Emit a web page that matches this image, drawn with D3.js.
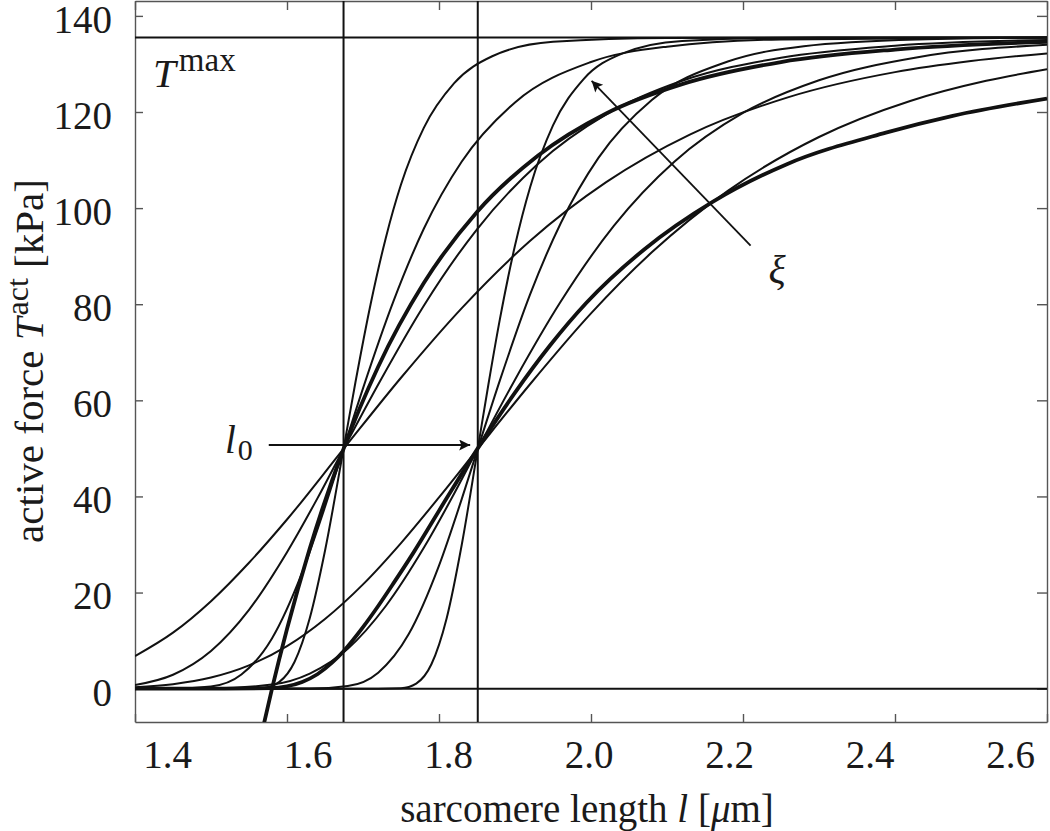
<!DOCTYPE html>
<html>
<head>
<meta charset="utf-8">
<script src="https://cdn.jsdelivr.net/npm/d3@7"></script>
<style>
  body { margin: 0; background: #fff; }
  svg text { font-family: "Liberation Serif", "DejaVu Serif", serif; fill: #1a1a1a; }
</style>
</head>
<body>
<svg id="chart"></svg>
<script>
// values: sarcomere length l [um] vs active force T [kPa]
const tMax = 135.5;
const l0Lines = [1.6744, 1.851];
const xTicks = [1.4, 1.6, 1.8, 2.0, 2.2, 2.4, 2.6];
const yTicks = [0, 20, 40, 60, 80, 100, 120, 140];

// left family (through l0 = 1.674), steep to flat
const a1 = [[1.40, 0], [1.54, 0], [1.57, 0.19], [1.59, 1.41], [1.61, 5.6], [1.63, 14.7], [1.65, 28.7], [1.6744, 49.9], [1.69, 63.7], [1.71, 80.0], [1.73, 93.8], [1.75, 104.9], [1.78, 116.7], [1.82, 126.0], [1.87, 131.6], [1.95, 134.6], [2.10, 135.4], [2.60, 135.5]];
const a2 = [[1.40, 0], [1.45, 0.01], [1.50, 0.44], [1.54, 2.93], [1.58, 10.4], [1.62, 24.2], [1.65, 37.8], [1.6744, 49.9], [1.70, 62.5], [1.74, 80.6], [1.78, 95.7], [1.83, 109.7], [1.90, 122.0], [2.00, 130.4], [2.10, 133.6], [2.25, 135.1], [2.60, 135.5]];
const a3 = [[1.40, 0.76], [1.45, 2.90], [1.50, 7.85], [1.55, 16.4], [1.60, 28.4], [1.64, 39.6], [1.6744, 49.9], [1.72, 63.3], [1.78, 79.7], [1.85, 95.6], [1.93, 109.2], [2.02, 119.5], [2.12, 126.5], [2.25, 131.3], [2.40, 133.8], [2.60, 135.0]];
const a4 = [[1.40, 6.77], [1.45, 11.65], [1.50, 18.2], [1.55, 26.2], [1.60, 35.2], [1.6744, 49.9], [1.75, 64.7], [1.83, 79.2], [1.92, 93.2], [2.02, 105.4], [2.13, 115.3], [2.26, 123.1], [2.40, 128.3], [2.50, 130.6], [2.60, 132.2]];
const aThick = [[1.565, -10.5], [1.5803, 0], [1.60, 12.4], [1.63, 29.2], [1.6744, 49.9], [1.72, 67.0], [1.78, 84.4], [1.85, 99.2], [1.93, 110.9], [2.02, 119.7], [2.12, 125.8], [2.25, 130.4], [2.40, 133.0], [2.60, 134.6]];

// right family (through l0 = 1.851)
const b1 = [[1.40, 0], [1.72, 0], [1.75, 0.10], [1.77, 1.06], [1.79, 5.07], [1.81, 14.6], [1.83, 30.0], [1.851, 49.9], [1.865, 63.3], [1.88, 76.8], [1.90, 92.2], [1.92, 104.4], [1.95, 117.2], [1.99, 126.8], [2.04, 132.1], [2.12, 134.8], [2.30, 135.5], [2.60, 135.5]];
const b2 = [[1.40, 0], [1.63, 0.01], [1.68, 0.54], [1.72, 3.33], [1.76, 11.3], [1.80, 25.6], [1.83, 39.5], [1.851, 49.9], [1.88, 64.1], [1.92, 82.1], [1.96, 96.8], [2.01, 110.5], [2.08, 122.5], [2.18, 130.5], [2.28, 133.7], [2.43, 135.1], [2.60, 135.5]];
const b3 = [[1.40, 0], [1.50, 0.04], [1.58, 0.84], [1.63, 3.14], [1.68, 8.3], [1.73, 17.2], [1.78, 29.3], [1.82, 40.6], [1.851, 49.9], [1.90, 64.3], [1.96, 80.5], [2.03, 96.3], [2.11, 109.7], [2.20, 119.8], [2.30, 126.6], [2.43, 131.4], [2.60, 134.0]];
const b4 = [[1.40, 0.31], [1.45, 0.94], [1.50, 2.31], [1.55, 4.84], [1.60, 8.85], [1.65, 14.5], [1.70, 21.7], [1.75, 30.3], [1.80, 39.8], [1.851, 49.9], [1.92, 63.4], [2.00, 78.1], [2.08, 90.8], [2.18, 103.6], [2.30, 114.8], [2.42, 122.3], [2.52, 126.5], [2.60, 128.9]];
const bThick = [[1.40, 0], [1.50, 0], [1.58, 0.1], [1.60, 0.5], [1.62, 1.4], [1.64, 3.0], [1.66, 5.5], [1.6744, 7.8], [1.70, 12.8], [1.72, 17.2], [1.74, 21.9], [1.766, 28.2], [1.81, 39.6], [1.851, 50.0], [1.90, 61.6], [1.946, 71.4], [1.994, 80.3], [2.07, 91.4], [2.16, 101.3], [2.257, 109.1], [2.388, 115.7], [2.476, 119.2], [2.60, 122.8]];

// annotations (data coordinates)
const l0Arrow = [[1.576, 50.7], [1.841, 50.7]];
const xiArrow = [[2.210, 92.2], [2.0008, 126.5]];

const curves = [
  { pts: a1, w: 2 }, { pts: a2, w: 2 }, { pts: a3, w: 2 }, { pts: a4, w: 2 },
  { pts: b1, w: 2 }, { pts: b2, w: 2 }, { pts: b3, w: 2 }, { pts: b4, w: 2 },
  { pts: aThick, w: 3.8 }, { pts: bThick, w: 3.8 }
];

const margin = { top: 1, right: 3, bottom: 109, left: 135 };
const width = 1050 - margin.left - margin.right;
const height = 831 - margin.top - margin.bottom;

const svg = d3.select('#chart').attr('width', 1050).attr('height', 831);
const g = svg.append('g').attr('transform', `translate(${margin.left},${margin.top})`);

const x = d3.scaleLinear().domain([1.4, 2.6]).range([0, width]);
const y = d3.scaleLinear().domain([-6.94, 143.1]).range([height, 0]);
// the original tick labels sit a bit compressed relative to their ticks
const xLab = d3.scaleLinear().domain([1.4, 2.6]).range([32, 875]);

const defs = svg.append('defs');
defs.append('clipPath').attr('id', 'clip')
  .append('rect').attr('width', width).attr('height', height);
defs.append('marker')
  .attr('id', 'head')
  .attr('viewBox', '0 0 10 10')
  .attr('refX', 10).attr('refY', 5)
  .attr('markerWidth', 17).attr('markerHeight', 11)
  .attr('markerUnits', 'userSpaceOnUse')
  .attr('orient', 'auto')
  .append('path').attr('d', 'M0,0L10,5L0,10L2,5z').attr('fill', '#111');

// axes (inward ticks on all four sides)
const axisColor = '#555';
const styleAxis = sel => {
  sel.select('.domain').attr('stroke', axisColor).attr('stroke-width', 1.4);
  sel.selectAll('.tick line').attr('stroke', axisColor).attr('stroke-width', 1.4);
};

const xb = g.append('g').attr('transform', `translate(0,${height})`)
  .call(d3.axisBottom(x).tickValues(xTicks).tickSizeInner(-8).tickSizeOuter(0).tickFormat(d3.format('.1f')))
  .call(styleAxis);
xb.selectAll('text')
  .attr('x', d => xLab(d) - x(d))
  .attr('y', 46).attr('dy', 0)
  .style('font-size', '39px');

g.append('g')
  .call(d3.axisTop(x).tickValues(xTicks).tickSizeInner(-9).tickSizeOuter(0).tickFormat(''))
  .call(styleAxis);

const yl = g.append('g')
  .call(d3.axisLeft(y).tickValues(yTicks).tickSizeInner(-8).tickSizeOuter(0))
  .call(styleAxis);
yl.selectAll('text').attr('x', -23).attr('dy', '0.42em').style('font-size', '39px');

g.append('g').attr('transform', `translate(${width},0)`)
  .call(d3.axisRight(y).tickValues(yTicks).tickSizeInner(-10).tickSizeOuter(0).tickFormat(''))
  .call(styleAxis);

// curves and reference lines
const plot = g.append('g').attr('clip-path', 'url(#clip)');

const line = d3.line()
  .x(d => x(d[0]))
  .y(d => y(d[1]))
  .curve(d3.curveMonotoneX);

plot.selectAll('path.curve')
  .data(curves)
  .join('path')
  .attr('class', 'curve')
  .attr('d', d => line(d.pts))
  .attr('fill', 'none')
  .attr('stroke', '#111')
  .attr('stroke-width', d => d.w)
  .attr('stroke-linejoin', 'round');

plot.selectAll('line.vref')
  .data(l0Lines)
  .join('line')
  .attr('class', 'vref')
  .attr('x1', d => x(d)).attr('x2', d => x(d))
  .attr('y1', 0).attr('y2', height)
  .attr('stroke', '#111').attr('stroke-width', 2);

plot.selectAll('line.href')
  .data([0, tMax])
  .join('line')
  .attr('class', 'href')
  .attr('x1', 0).attr('x2', width)
  .attr('y1', d => y(d)).attr('y2', d => y(d))
  .attr('stroke', '#111').attr('stroke-width', 2);

// arrows
[l0Arrow, xiArrow].forEach(a => {
  g.append('line')
    .attr('x1', x(a[0][0])).attr('y1', y(a[0][1]))
    .attr('x2', x(a[1][0])).attr('y2', y(a[1][1]))
    .attr('stroke', '#111').attr('stroke-width', 1.8)
    .attr('marker-end', 'url(#head)');
});

// labels
const tLab = g.append('text')
  .attr('x', x(1.4237)).attr('y', y(125.2))
  .style('font-size', '41px');
tLab.append('tspan').attr('font-style', 'italic').text('T');
tLab.append('tspan').attr('dy', -16).attr('dx', 3).style('font-size', '33px').text('max');

const lLab = g.append('text')
  .attr('x', x(1.5184)).attr('y', y(49.0))
  .style('font-size', '39px');
lLab.append('tspan').attr('font-style', 'italic').text('l');
lLab.append('tspan').attr('dy', 7).attr('dx', 2).style('font-size', '30px').text('0');

g.append('text')
  .attr('x', x(2.2447)).attr('y', y(84.4))
  .attr('text-anchor', 'middle')
  .attr('font-style', 'italic')
  .style('font-size', '40px')
  .text('ξ');

const xt = g.append('text')
  .attr('x', 452).attr('y', 821)
  .attr('text-anchor', 'middle')
  .style('font-size', '39px');
xt.append('tspan').text('sarcomere length ');
xt.append('tspan').attr('font-style', 'italic').text('l');
xt.append('tspan').text(' [');
xt.append('tspan').attr('font-style', 'italic').text('μ');
xt.append('tspan').text('m]');

const yt = g.append('text')
  .attr('transform', 'translate(-92,360) rotate(-90)')
  .attr('text-anchor', 'middle')
  .style('font-size', '41px');
yt.append('tspan').text('active force ');
yt.append('tspan').attr('font-style', 'italic').text('T');
yt.append('tspan').attr('dy', -15).attr('dx', 2).style('font-size', '32px').text('act');
yt.append('tspan').attr('dy', 15).text(' [kPa]');
</script>
</body>
</html>
